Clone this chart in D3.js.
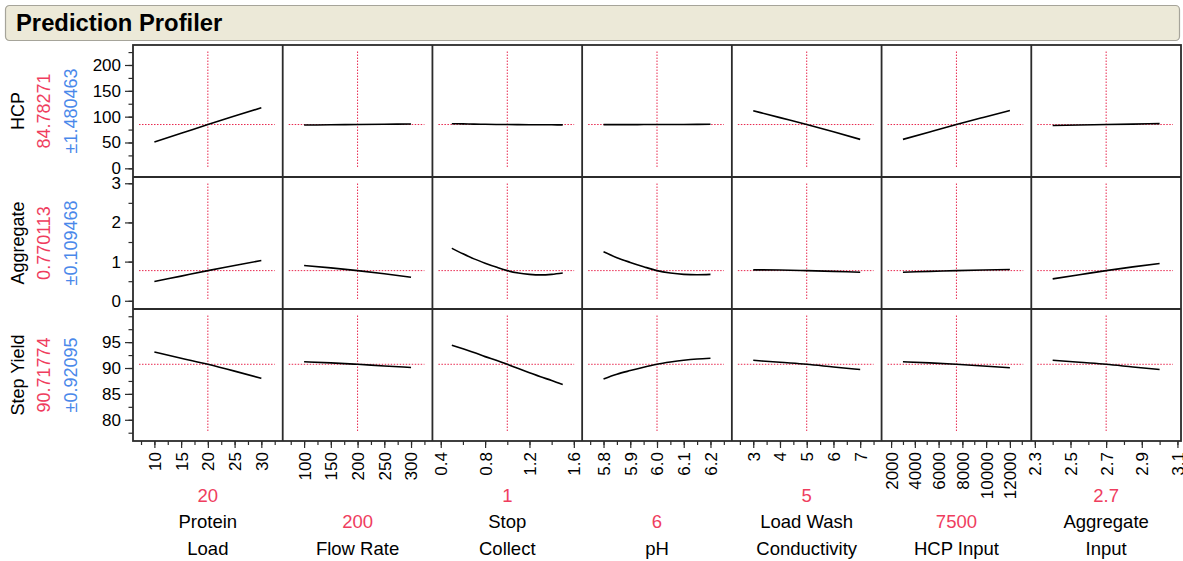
<!DOCTYPE html>
<html>
<head>
<meta charset="utf-8">
<script src="https://cdn.jsdelivr.net/npm/d3@7"></script>
<style>
  html, body { margin: 0; padding: 0; background: #ffffff; }
  svg { display: block; font-family: "Liberation Sans", Arial, sans-serif; }
</style>
</head>
<body>
<svg id="chart" width="1183" height="561"></svg>
<script>
// ---- responses (rows) ----
const responseNames = ["HCP", "Aggregate", "Step Yield"];
const predictedValues = [84.78271, 0.770113, 90.71774];
const predictedLabels = ["84.78271", "0.770113", "90.71774"];
const intervalLabels = ["±1.480463", "±0.109468", "±0.92095"];
const responseDomains = [[-16.8, 238.7], [-0.21, 3.16], [75.9, 101.4]];
const responseMajorTicks = [[0, 50, 100, 150, 200], [0, 1, 2, 3], [80, 85, 90, 95]];
const responseMinorTicks = [
  [0, 25, 50, 75, 100, 125, 150, 175, 200, 225],
  [0, 0.5, 1, 1.5, 2, 2.5, 3],
  [77.5, 80, 82.5, 85, 87.5, 90, 92.5, 95, 97.5, 100]
];

// ---- factors (columns) ----
const factorNames = [["Protein", "Load"], ["Flow Rate"], ["Stop", "Collect"], ["pH"],
                     ["Load Wash", "Conductivity"], ["HCP Input"], ["Aggregate", "Input"]];
const currentValues = [20, 200, 1, 6, 5, 7500, 2.7];
const currentLabels = ["20", "200", "1", "6", "5", "7500", "2.7"];
const factorDomains = [[6, 34], [60, 340], [0.325, 1.675], [5.72, 6.28],
                       [2.2, 7.8], [1200, 13800], [2.28, 3.12]];
const factorMajorTicks = [
  [10, 15, 20, 25, 30],
  [100, 150, 200, 250, 300],
  [0.4, 0.8, 1.2, 1.6],
  [5.8, 5.9, 6.0, 6.1, 6.2],
  [3, 4, 5, 6, 7],
  [2000, 4000, 6000, 8000, 10000, 12000],
  [2.3, 2.5, 2.7, 2.9, 3.1]
];
const factorTickLabels = [
  ["10", "15", "20", "25", "30"],
  ["100", "150", "200", "250", "300"],
  ["0.4", "0.8", "1.2", "1.6"],
  ["5.8", "5.9", "6.0", "6.1", "6.2"],
  ["3", "4", "5", "6", "7"],
  ["2000", "4000", "6000", "8000", "10000", "12000"],
  ["2.3", "2.5", "2.7", "2.9", "3.1"]
];
const factorMinorTicks = [
  [7.5, 10, 12.5, 15, 17.5, 20, 22.5, 25, 27.5, 30, 32.5],
  [75, 100, 125, 150, 175, 200, 225, 250, 275, 300, 325],
  [0.4, 0.6, 0.8, 1.0, 1.2, 1.4, 1.6],
  [5.75, 5.8, 5.85, 5.9, 5.95, 6.0, 6.05, 6.1, 6.15, 6.2, 6.25],
  [2.5, 3, 3.5, 4, 4.5, 5, 5.5, 6, 6.5, 7, 7.5],
  [2000, 3000, 4000, 5000, 6000, 7000, 8000, 9000, 10000, 11000, 12000, 13000],
  [2.3, 2.4, 2.5, 2.6, 2.7, 2.8, 2.9, 3.0, 3.1]
];

// ---- profile traces: factor settings, then predicted response along each ----
const factorSettings = [
  [10, 15, 20, 25, 30],
  [100, 150, 200, 250, 300],
  [0.5, 0.6, 0.7, 0.8, 0.9, 1.0, 1.1, 1.2, 1.3, 1.4, 1.5],
  [5.8, 5.85, 5.9, 5.95, 6.0, 6.05, 6.1, 6.15, 6.2],
  [3, 4, 5, 6, 7],
  [3000, 5250, 7500, 9750, 12000],
  [2.4, 2.55, 2.7, 2.85, 3.0]
];
const hcpProfiles = [
  [51, 67.7, 84.78, 101.1, 117.2],
  [83.8, 84.2, 84.78, 85.3, 85.9],
  [86.4, 86.0, 85.6, 85.2, 84.95, 84.78, 84.6, 84.45, 84.3, 84.2, 84.1],
  [84.5, 84.55, 84.6, 84.7, 84.78, 84.85, 84.95, 85.1, 85.3],
  [111.5, 98.1, 84.78, 70.6, 56],
  [56, 70.5, 84.78, 98.5, 112],
  [83.0, 83.9, 84.78, 85.6, 86.6]
];
const aggregateProfiles = [
  [0.49, 0.63, 0.77, 0.9, 1.03],
  [0.9, 0.84, 0.77, 0.69, 0.6],
  [1.34, 1.2, 1.07, 0.96, 0.86, 0.77, 0.71, 0.675, 0.66, 0.675, 0.71],
  [1.25, 1.10, 0.98, 0.87, 0.77, 0.71, 0.675, 0.665, 0.675],
  [0.79, 0.785, 0.77, 0.75, 0.73],
  [0.73, 0.75, 0.77, 0.785, 0.8],
  [0.56, 0.665, 0.77, 0.865, 0.95]
];
const stepYieldProfiles = [
  [93.1, 91.9, 90.72, 89.4, 88.0],
  [91.2, 91.0, 90.72, 90.4, 90.1],
  [94.4, 93.7, 93.0, 92.2, 91.5, 90.72, 89.9, 89.1, 88.3, 87.6, 86.8],
  [87.9, 88.8, 89.5, 90.15, 90.72, 91.15, 91.5, 91.75, 91.9],
  [91.5, 91.1, 90.72, 90.2, 89.7],
  [91.2, 91.0, 90.72, 90.4, 90.05],
  [91.5, 91.1, 90.72, 90.2, 89.7]
];
const profiles = [hcpProfiles, aggregateProfiles, stepYieldProfiles];

// ---- layout & styling ----
const RED = "#ef3d5e", BLUE = "#4a88ea", CROSS = "#e8284f", FRAME = "#2b2b2b";
const plotLeft = 133, plotRight = 1181, plotTop = 45, rowH = 132;
const nCols = factorNames.length, nRows = responseNames.length;
const colW = (plotRight - plotLeft) / nCols;
const plotBottom = plotTop + rowH * nRows;

const svg = d3.select("#chart");

// title bar
svg.append("rect")
  .attr("x", 5.5).attr("y", 5.5).attr("width", 1174).attr("height", 35).attr("rx", 4)
  .attr("fill", "#ece9d8").attr("stroke", "#a6a49a").attr("stroke-width", 1.2);
svg.append("text")
  .attr("x", 16).attr("y", 31)
  .attr("font-size", 23.8).attr("font-weight", "bold").attr("fill", "#000")
  .text("Prediction Profiler");

const xScales = factorDomains.map((dom, j) =>
  d3.scaleLinear().domain(dom).range([plotLeft + j * colW, plotLeft + (j + 1) * colW]));
const yScales = responseDomains.map((dom, i) =>
  d3.scaleLinear().domain(dom).range([plotTop + (i + 1) * rowH, plotTop + i * rowH]));

const line = d3.line().curve(d3.curveMonotoneX);

// panels: crosshairs and profile curves
for (let i = 0; i < nRows; i++) {
  const y = yScales[i];
  for (let j = 0; j < nCols; j++) {
    const x = xScales[j];
    const g = svg.append("g");
    const [x0, x1] = x.range();
    const [y1, y0] = y.range();
    // horizontal crosshair at predicted response
    g.append("line")
      .attr("x1", x0 + 6).attr("x2", x1 - 8)
      .attr("y1", y(predictedValues[i])).attr("y2", y(predictedValues[i]))
      .attr("stroke", CROSS).attr("stroke-width", 1).attr("stroke-dasharray", "1.5,1.5");
    // vertical crosshair at current factor setting
    g.append("line")
      .attr("x1", x(currentValues[j])).attr("x2", x(currentValues[j]))
      .attr("y1", y0 + 6.5).attr("y2", y1 - 8.5)
      .attr("stroke", CROSS).attr("stroke-width", 1).attr("stroke-dasharray", "1.5,1.5");
    const pts = factorSettings[j].map((fx, k) => [x(fx), y(profiles[i][j][k])]);
    g.append("path")
      .attr("d", line(pts))
      .attr("fill", "none").attr("stroke", "#000").attr("stroke-width", 1.6);
  }
}

// grid frame
const frame = svg.append("g").attr("stroke", FRAME).attr("stroke-width", 1.8).attr("fill", "none");
frame.append("rect")
  .attr("x", plotLeft).attr("y", plotTop)
  .attr("width", plotRight - plotLeft).attr("height", plotBottom - plotTop);
for (let j = 1; j < nCols; j++) {
  frame.append("line").attr("x1", plotLeft + j * colW).attr("x2", plotLeft + j * colW)
    .attr("y1", plotTop).attr("y2", plotBottom);
}
for (let i = 1; i < nRows; i++) {
  frame.append("line").attr("x1", plotLeft).attr("x2", plotRight)
    .attr("y1", plotTop + i * rowH).attr("y2", plotTop + i * rowH);
}

// y axes
for (let i = 0; i < nRows; i++) {
  const minor = svg.append("g").attr("transform", `translate(${plotLeft},0)`)
    .call(d3.axisLeft(yScales[i]).tickValues(responseMinorTicks[i]).tickSize(4.5).tickFormat(""));
  minor.select(".domain").remove();
  const major = svg.append("g").attr("transform", `translate(${plotLeft},0)`)
    .call(d3.axisLeft(yScales[i]).tickValues(responseMajorTicks[i]).tickSize(8).tickPadding(4)
      .tickFormat(d3.format("d")));
  major.select(".domain").remove();
  major.selectAll("text").attr("font-size", 17).attr("fill", "#000")
    .attr("font-family", "Liberation Sans, Arial, sans-serif");
  svg.selectAll(".tick line").attr("stroke", FRAME).attr("stroke-width", 1.2);

  // row labels: response name, predicted value, interval
  const cy = plotTop + i * rowH + rowH / 2;
  const rowText = [[responseNames[i], "#000", 24], [predictedLabels[i], RED, 50], [intervalLabels[i], BLUE, 77]];
  rowText.forEach(([t, c, bx]) => {
    svg.append("text")
      .attr("transform", `translate(${bx},${cy}) rotate(-90)`)
      .attr("text-anchor", "middle").attr("font-size", 18).attr("fill", c)
      .text(t);
  });
}

// x axes
for (let j = 0; j < nCols; j++) {
  const minor = svg.append("g").attr("transform", `translate(0,${plotBottom})`)
    .call(d3.axisBottom(xScales[j]).tickValues(factorMinorTicks[j]).tickSize(4).tickFormat(""));
  minor.select(".domain").remove();
  const labels = factorTickLabels[j];
  const major = svg.append("g").attr("transform", `translate(0,${plotBottom})`)
    .call(d3.axisBottom(xScales[j]).tickValues(factorMajorTicks[j]).tickSize(7)
      .tickFormat((d, k) => labels[k]));
  major.select(".domain").remove();
  major.selectAll("text")
    .attr("transform", "rotate(-90)")
    .attr("text-anchor", "end")
    .attr("x", -11).attr("y", 0).attr("dy", "0.35em")
    .attr("font-size", 17).attr("fill", "#000")
    .attr("font-family", "Liberation Sans, Arial, sans-serif");
  svg.selectAll(".tick line").attr("stroke", FRAME).attr("stroke-width", 1.2);

  // factor captions: current value in red above the name lines
  const cx = plotLeft + j * colW + colW / 2;
  const nameLines = factorNames[j];
  const baselines = nameLines.length === 2 ? [528, 555] : [555];
  const valueBase = nameLines.length === 2 ? 502 : 528;
  svg.append("text").attr("x", cx).attr("y", valueBase)
    .attr("text-anchor", "middle").attr("font-size", 18.5).attr("fill", RED)
    .text(currentLabels[j]);
  nameLines.forEach((t, k) => {
    svg.append("text").attr("x", cx).attr("y", baselines[k])
      .attr("text-anchor", "middle").attr("font-size", 18.5).attr("fill", "#000")
      .text(t);
  });
}
</script>
</body>
</html>
